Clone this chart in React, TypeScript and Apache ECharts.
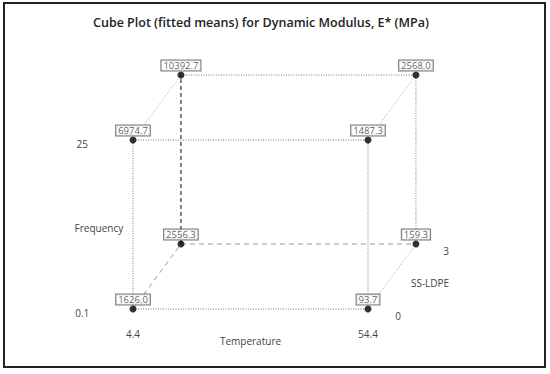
import React, { useEffect, useRef } from "react";
import * as echarts from "echarts";

const chartTitle = "Cube Plot (fitted means) for Dynamic Modulus, E* (MPa)";
const temperatureLevels = ["4.4", "54.4"];
const frequencyLevels = ["0.1", "25"];
const ldpeLevels = ["0", "3"];
const factorNames = ["Temperature", "Frequency", "SS-LDPE"];

// corner design (level index of each factor) and fitted mean at each corner
const cornerTemp = [0, 1, 0, 1, 0, 1, 0, 1];
const cornerFreq = [0, 0, 1, 1, 0, 0, 1, 1];
const cornerLdpe = [0, 0, 0, 0, 1, 1, 1, 1];
const fittedMeans = [1626.0, 93.7, 6974.7, 1487.3, 2556.3, 159.3, 10392.7, 2568.0];

// oblique projection of the depth (SS-LDPE) axis
const DX = 0.204;
const DY = 0.385;
const FONT = "Open Sans";

const proj = (t: number, f: number, s: number): [number, number] => [t + DX * s, f + DY * s];
const corner = (i: number) => proj(cornerTemp[i], cornerFreq[i], cornerLdpe[i]);

type EdgeStyle = "front" | "diag" | "hiddenDark" | "hiddenLight";
const edges: [number, number, EdgeStyle][] = [
  [0, 1, "front"],
  [0, 2, "front"],
  [1, 3, "front"],
  [2, 3, "front"],
  [6, 7, "front"],
  [5, 7, "front"],
  [2, 6, "diag"],
  [3, 7, "diag"],
  [1, 5, "diag"],
  [4, 6, "hiddenDark"],
  [4, 5, "hiddenLight"],
  [0, 4, "hiddenLight"],
];

const edgeLineStyle: Record<EdgeStyle, any> = {
  front: { color: "#777", width: 1, type: [1, 1.5] },
  diag: { color: "#b0b0b0", width: 1, type: [1, 1.5] },
  hiddenDark: { color: "#333", width: 1.2, type: [4, 3] },
  hiddenLight: { color: "#999", width: 1, type: [5, 4] },
};

export default function App() {
  const ref = useRef<HTMLDivElement>(null);
  useEffect(() => {
    document.body.style.margin = "0";
    if (!ref.current) return;
    const chart = echarts.init(ref.current, undefined, { renderer: "svg" });

    const edgeSeries = edges.map(([a, b, st]) => ({
      type: "line",
      data: [corner(a), corner(b)],
      symbol: "none",
      silent: true,
      clip: false,
      lineStyle: edgeLineStyle[st],
      z: 1,
    }));

    const textItems: { name: string; value: [number, number] }[] = [];
    frequencyLevels.forEach((lab, f) => textItems.push({ name: lab, value: [-0.216, f - 0.025] }));
    temperatureLevels.forEach((lab, t) => textItems.push({ name: lab, value: [t, -0.148] }));
    ldpeLevels.forEach((lab, s) => {
      const p = proj(1, 0, s);
      textItems.push({ name: lab, value: [p[0] + 0.128, p[1] - 0.04] });
    });
    textItems.push({ name: factorNames[0], value: [0.5, -0.19] });
    textItems.push({ name: factorNames[1], value: [-0.145, 0.479] });
    const mid = proj(1, 0, 0.5);
    textItems.push({ name: factorNames[2], value: [mid[0] + 0.162, mid[1] - 0.038] });

    const baseGraphic: any[] = [
      {
        type: "rect",
        shape: { x: 4, y: 3, width: 541, height: 364 },
        style: { fill: "none", stroke: "#222", lineWidth: 2 },
        silent: true,
      },
      {
        type: "text",
        x: 261,
        y: 22,
        style: {
          text: chartTitle,
          fontFamily: FONT,
          fontSize: 12.5,
          fontWeight: 600,
          fill: "#222",
          textAlign: "center",
          textVerticalAlign: "middle",
        },
      },
    ];

    chart.setOption({
      animation: false,
      grid: { left: 133, top: 75, width: 235 * (1 + DX), height: 169 * (1 + DY) },
      xAxis: { type: "value", min: 0, max: 1 + DX, show: false },
      yAxis: { type: "value", min: 0, max: 1 + DY, show: false },
      graphic: baseGraphic,
      series: [
        ...edgeSeries,
        {
          type: "scatter",
          data: fittedMeans.map((v, i) => ({ name: v.toFixed(1), value: corner(i) })),
          symbol: "circle",
          symbolSize: 7,
          itemStyle: { color: "#000" },
          clip: false,
          z: 3,
          label: {
            show: true,
            position: "top",
            distance: 1,
            formatter: "{b}",
            fontFamily: FONT,
            fontSize: 9.5,
            color: "#333",
            backgroundColor: "#fff",
            borderColor: "#555",
            borderWidth: 1,
            padding: [0, 2, 0, 2],
            lineHeight: 10,
          },
        },
      ],
    });

    const textGraphic = textItems.map((it) => {
      const [px, py] = chart.convertToPixel({ gridIndex: 0 }, it.value) as number[];
      return {
        type: "text",
        x: px,
        y: py,
        silent: true,
        style: {
          text: it.name,
          fontFamily: FONT,
          fontSize: 10,
          fill: "#444",
          textAlign: "center",
          textVerticalAlign: "middle",
        },
      };
    });
    chart.setOption({ graphic: [...baseGraphic, ...textGraphic] });

    return () => chart.dispose();
  }, []);
  return <div ref={ref} style={{ width: 550, height: 374 }} />;
}
